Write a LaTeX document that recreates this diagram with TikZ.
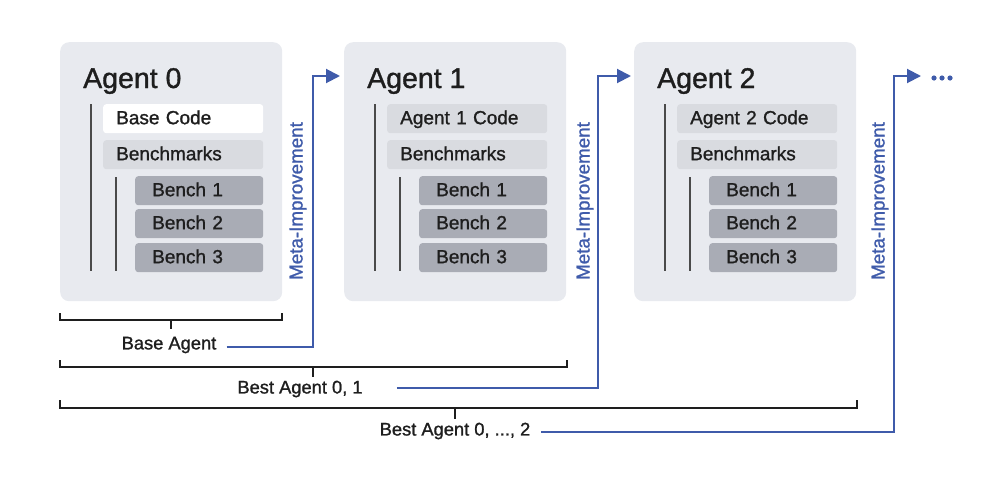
\documentclass[tikz,border=0pt]{standalone}
\usepackage{fontspec}
\setmainfont{Liberation Sans}[BoldFont={Liberation Sans}, BoldFeatures={FakeBold=1.2}]
\usetikzlibrary{arrows.meta}
\definecolor{boxfill}{HTML}{E8EAEF}
\definecolor{benchsfill}{HTML}{D9DBE0}
\definecolor{benchfill}{HTML}{A9ACB5}
\definecolor{metablue}{HTML}{3F5BAA}
\definecolor{ink}{HTML}{1E1E1E}
\definecolor{linegray}{HTML}{4A4A4A}
\tikzset{
  agentbox/.style={fill=boxfill, rounded corners=9pt, minimum width=222pt, minimum height=259pt, anchor=north west, inner sep=0pt},
  title/.style={anchor=base west, inner sep=0pt, font=\fontsize{28.5}{30}\selectfont\bfseries, text=ink},
  codebox/.style={fill=#1, rounded corners=3pt, anchor=north west, minimum height=29pt, inner ysep=4.5pt, text height=15.5pt, text depth=4.5pt, inner xsep=13pt, text width=134pt, align=left, font=\fontsize{19}{21}\selectfont\bfseries, text=ink},
  benchbox/.style={fill=benchfill, rounded corners=3pt, anchor=north west, minimum height=29pt, inner ysep=4.5pt, text height=15.5pt, text depth=4.5pt, inner xsep=17pt, text width=94pt, align=left, font=\fontsize{19}{21}\selectfont\bfseries, text=ink},
  treeline/.style={draw=linegray, line width=1.3pt},
  bracket/.style={draw=ink, line width=2.3pt},
  blab/.style={font=\fontsize{18.3}{20}\selectfont\bfseries, text=ink, inner sep=0pt},
  meta/.style={draw=metablue, line width=2pt, -{Triangle[length=14pt,width=14pt]}},
  metalab/.style={rotate=90, font=\fontsize{18.8}{20}\selectfont\bfseries, text=metablue, inner sep=0pt},
}
\begin{document}
\begin{tikzpicture}[x=1pt,y=-1pt]
\useasboundingbox (0,0) rectangle (996,482);
% agents
\foreach \i/\dx/\code/\cfill in {0/0/Base Code/white, 1/284/Agent 1 Code/benchsfill, 2/574/Agent 2 Code/benchsfill}{
  \node[agentbox] (a\i) at (60+\dx,42) {};
  \node[title] (t\i) at (83+\dx,88) {Agent \i};
  \draw[treeline] (91+\dx,104) -- (91+\dx,271);
  \node[codebox=\cfill] (c\i) at (103+\dx,104) {\code};
  \node[codebox=benchsfill] (bm\i) at (103+\dx,140) {Benchmarks};
  \draw[treeline] (116+\dx,177) -- (116+\dx,271);
  \node[benchbox] (b\i1) at (135+\dx,176) {Bench 1};
  \node[benchbox] (b\i2) at (135+\dx,209) {Bench 2};
  \node[benchbox] (b\i3) at (135+\dx,243) {Bench 3};
}
% brackets
\draw[bracket] (60,313) -- (60,320) -- (282,320) -- (282,313);
\draw[bracket] (171,320) -- (171,329);
\draw[bracket] (60,360) -- (60,367) -- (567,367) -- (567,360);
\draw[bracket] (313,367) -- (313,377);
\draw[bracket] (60,400) -- (60,408) -- (857,408) -- (857,400);
\draw[bracket] (455,408) -- (455,419);
% labels
\node[blab] (l0) at (169,345) {Base Agent};
\node[blab] (l1) at (300,389) {Best Agent 0, 1};
\node[blab] (l2) at (455,431) {Best Agent 0, ..., 2};
% meta-improvement arrows
\coordinate (m0) at (313,76);
\coordinate (m1) at (598,76);
\coordinate (m2) at (894,76);
\coordinate (e2) at (921,76);
\draw[meta] ([xshift=10pt]l0.east |- 0,347) -| (m0) -- ([xshift=-4pt]a1.west |- m0);
\draw[meta] ([xshift=34pt]l1.east |- 0,388) -| (m1) -- ([xshift=-3pt]a2.west |- m1);
\draw[meta] ([xshift=11pt]l2.east |- 0,432) -| (m2) -- (e2);
\node[metalab] (ml0) at (298,201) {Meta-Improvement};
\node[metalab] (ml1) at (585,201) {Meta-Improvement};
\node[metalab] (ml2) at (880,201) {Meta-Improvement};
% dots
\foreach \x in {934,942,950}{ \fill[metablue] (\x,78) circle (2.6pt); }
\end{tikzpicture}
\end{document}
